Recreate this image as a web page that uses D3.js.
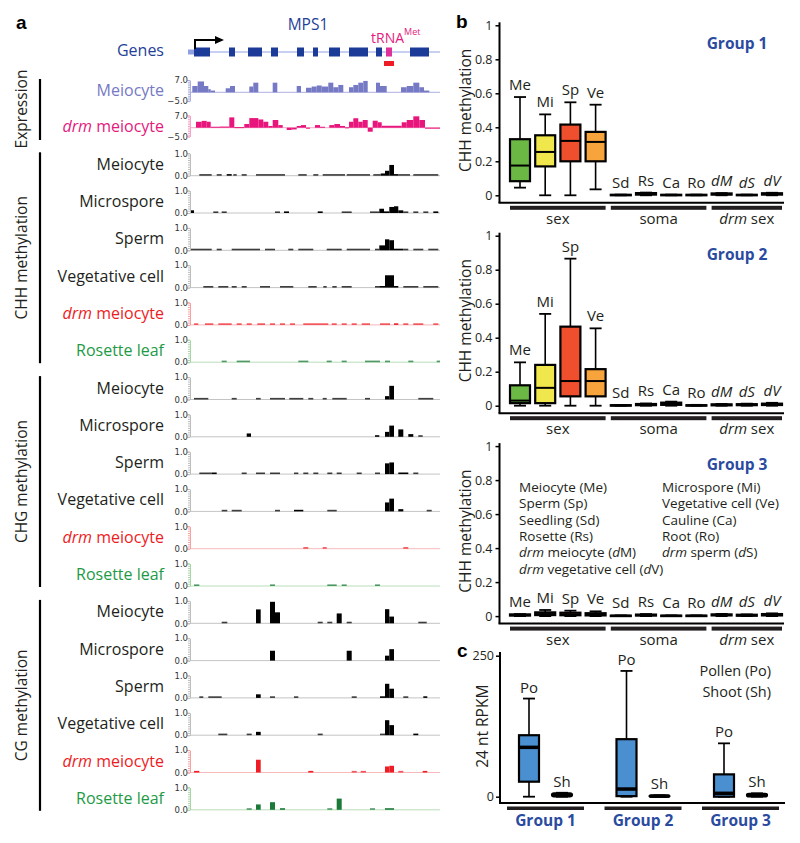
<!DOCTYPE html>
<html><head><meta charset="utf-8">
<script src="https://cdn.jsdelivr.net/npm/d3@7"></script>
<style>body{margin:0;background:#fff} svg{display:block}</style>
</head><body><svg id="c" width="800" height="843"></svg>
<script>
// ---------------- DATA ----------------
// genomic positions in bp across the MPS1 window
const regionDomain = [0, 2500];
const exons = [[40,200],[390,450],[580,720],[810,880],[1070,1140],[1230,1280],[1390,1500],[1590,1780],[1860,1920],[2200,2390]];
const utr = [[0,40]];
const trnaExon = [1960,2020];
const trnaMark = [1940,2040];
const tssPos = 50;

const exprMeiocyte = [[23,77,3.6],[77,140,6.2],[140,183,3.6],[183,207,1.8],[207,250,1.0],[357,400,2.3],[400,450,3.6],[593,633,3.3],[633,683,5.5],[827,873,5.5],[1067,1110,3.6],[1160,1217,2.6],[1217,1267,3.3],[1267,1317,3.9],[1317,1383,3.3],[1383,1433,5.5],[1433,1483,2.9],[1483,1533,4.2],[1590,1633,2.9],[1633,1683,4.2],[1683,1733,5.5],[1733,1777,6.5],[1860,1900,5.5],[1900,1967,3.6],[2110,2167,2.9],[2167,2233,3.6],[2233,2293,5.5],[2293,2340,2.9],[2340,2393,1.0]];
const exprDrmMeiocyte = [[60,117,3.4],[117,167,3.9],[167,207,3.4],[207,300,0.55],[300,393,0.66],[393,443,5.9],[443,543,0.33],[543,593,2.1],[593,683,5.5],[683,733,4.7],[733,783,3.4],[783,827,1.0],[827,883,4.4],[883,927,1.5],[967,1017,-1.3],[1017,1067,-1.0],[1067,1110,1.0],[1110,1160,1.5],[1160,1200,-0.33],[1250,1300,1.5],[1300,1350,0.55],[1393,1443,1.5],[1443,1500,2.1],[1500,1550,1.0],[1550,1590,0.22],[1590,1633,3.4],[1633,1683,5.4],[1683,1727,3.4],[1727,1777,4.4],[1777,1827,-2.3],[1827,1877,4.0],[1877,1917,3.1],[1917,2117,1.1],[2117,2167,3.1],[2167,2233,4.4],[2233,2293,6.5],[2293,2350,4.4],[2350,2400,-0.22],[2400,2500,-0.33]];
const exprTicks = [7.0, -5.0];

const chhMeiocyte = [[93,217,0.02],[267,317,0.02],[367,417,0.07],[433,467,0.02],[517,567,0.02],[660,950,0.02],[1083,1167,0.02],[1233,1283,0.02],[1327,1550,0.02],[1567,1800,0.02],[1833,1907,0.02],[1907,1950,0.1],[1950,1993,0.22],[1993,2040,0.48],[2040,2083,0.04],[2083,2200,0.02],[2233,2483,0.02]];
const chhMicrospore = [[0,40,0.12],[233,283,0.03],[317,367,0.02],[850,900,0.02],[940,990,0.05],[1277,1327,0.05],[1517,1617,0.03],[1800,1893,0.02],[1893,1940,0.19],[1940,1993,0.06],[1993,2040,0.27],[2040,2083,0.3],[2083,2133,0.12],[2133,2183,0.02],[2233,2283,0.02],[2333,2383,0.02],[2433,2483,0.04]];
const chhSperm = [[0,217,0.02],[267,317,0.02],[417,700,0.02],[750,850,0.02],[983,1033,0.02],[1083,1233,0.02],[1367,1517,0.02],[1567,1800,0.02],[1850,1893,0.03],[1893,1950,0.22],[1950,1993,0.49],[1993,2040,0.45],[2040,2133,0.07],[2133,2183,0.02],[2233,2333,0.02],[2383,2483,0.02]];
const chhVegetative = [[133,233,0.02],[283,383,0.02],[417,467,0.02],[517,567,0.02],[700,800,0.02],[900,1033,0.02],[1183,1267,0.02],[1333,1367,0.02],[1423,1467,0.02],[1517,1617,0.02],[1850,1893,0.02],[1893,1950,0.06],[1950,2040,0.55],[2040,2083,0.05],[2133,2283,0.02],[2333,2483,0.02]];
const chhDrmMeiocyte = [[40,83,0.02],[150,233,0.02],[283,417,0.02],[467,517,0.02],[567,617,0.02],[673,750,0.02],[800,850,0.02],[900,950,0.02],[1000,1050,0.02],[1133,1383,0.02],[1417,1467,0.02],[1517,1567,0.02],[1617,1667,0.02],[1717,1800,0.02],[1900,2000,0.02],[2040,2083,0.04],[2133,2183,0.02],[2233,2333,0.02],[2433,2483,0.02]];
const chhRosette = [[317,367,0.02],[467,600,0.02],[1083,1183,0.02],[1367,1417,0.02],[1517,1567,0.02],[1750,1900,0.02],[1950,2000,0.02],[2183,2233,0.02],[2467,2500,0.02]];

const chgMeiocyte = [[40,183,0.02],[417,467,0.02],[660,707,0.02],[800,950,0.02],[993,1133,0.02],[1183,1233,0.02],[1327,1367,0.02],[1423,1567,0.02],[1750,1800,0.02],[1950,1993,0.15],[1993,2040,0.61],[2283,2433,0.02]];
const chgMicrospore = [[567,610,0.15],[1850,1893,0.04],[1950,1993,0.22],[1993,2040,0.5],[2083,2133,0.33],[2183,2233,0.12],[2283,2327,0.03]];
const chgSperm = [[93,217,0.03],[217,267,0.07],[517,567,0.02],[660,750,0.02],[800,900,0.02],[1040,1083,0.02],[1133,1183,0.02],[1233,1283,0.02],[1373,1423,0.02],[1467,1517,0.02],[1667,1717,0.02],[1850,1900,0.02],[1950,1993,0.48],[1993,2040,0.52],[2083,2183,0.04],[2233,2283,0.02]];
const chgVegetative = [[317,373,0.02],[417,517,0.02],[850,900,0.02],[1040,1133,0.04],[1373,1467,0.02],[1950,1993,0.4],[1993,2040,0.57],[2083,2133,0.1],[2367,2417,0.03]];
const chgDrmMeiocyte = [[1133,1183,0.02],[1327,1367,0.02],[2133,2183,0.02]];
const chgRosette = [[40,93,0.02],[800,850,0.02],[1373,1467,0.03],[1517,1567,0.02],[1850,1900,0.02]];

const cgMeiocyte = [[317,373,0.03],[660,707,0.62],[800,850,0.96],[850,900,0.49],[1277,1327,0.03],[1373,1423,0.03],[1467,1517,0.44],[1567,1617,0.03],[1950,1993,0.63],[1993,2040,0.3],[2283,2367,0.03]];
const cgMicrospore = [[800,850,0.44],[1567,1617,0.44],[1950,1993,0.22],[1993,2040,0.51]];
const cgSperm = [[93,133,0.02],[183,317,0.02],[660,707,0.16],[800,850,0.02],[1040,1083,0.02],[1617,1667,0.02],[1900,1950,0.05],[1950,1993,0.63],[1993,2040,0.41],[2133,2183,0.02],[2333,2373,0.07]];
const cgVegetative = [[283,373,0.03],[567,617,0.03],[660,707,0.15],[1277,1327,0.03],[1900,1950,0.03],[1950,1993,0.67],[1993,2040,0.45],[2233,2283,0.04]];
const cgDrmMeiocyte = [[40,93,0.04],[660,707,0.57],[1183,1233,0.05],[1617,1667,0.03],[1707,1760,0.03],[1950,1993,0.27],[1993,2040,0.3],[2083,2133,0.03],[2327,2373,0.04]];
const cgRosette = [[567,617,0.02],[660,707,0.24],[800,850,0.34],[900,950,0.05],[1373,1423,0.03],[1467,1517,0.5],[1800,1850,0.02],[1950,2040,0.04]];

const trackNames = ["Meiocyte","Microspore","Sperm","Vegetative cell","drm meiocyte","Rosette leaf"];
const contextNames = ["CHH methylation","CHG methylation","CG methylation"];

// panel b: boxplot stats [low, q1, median, q3, high]
const boxCats = ["Me","Mi","Sp","Ve","Sd","Rs","Ca","Ro","dM","dS","dV"];
const boxGroups = [["sex",["Me","Mi","Sp","Ve"]],["soma",["Sd","Rs","Ca","Ro"]],["drm sex",["dM","dS","dV"]]];
const group1Stats = [[0.045,0.083,0.175,0.33,0.578],[0,0.17,0.255,0.353,0.476],[0,0.2,0.32,0.416,0.547],[0.035,0.2,0.314,0.373,0.533],[0,0.001,0.002,0.003,0.004],[0,0.004,0.008,0.013,0.016],[0,0.001,0.002,0.003,0.004],[0,0.001,0.002,0.003,0.004],[0,0.004,0.007,0.011,0.013],[0,0.001,0.002,0.003,0.004],[0,0.004,0.008,0.012,0.015]];
const group2Stats = [[0,0.015,0.03,0.12,0.255],[0,0.015,0.105,0.24,0.54],[0,0.055,0.145,0.465,0.865],[0,0.055,0.145,0.215,0.455],[0,0.001,0.002,0.003,0.004],[0,0.003,0.007,0.01,0.013],[0,0.005,0.01,0.018,0.024],[0,0.001,0.002,0.003,0.005],[0,0.002,0.005,0.008,0.01],[0,0.003,0.006,0.009,0.012],[0,0.004,0.008,0.012,0.017]];
const group3Stats = [[0,0.003,0.006,0.01,0.012],[0,0.006,0.012,0.022,0.036],[0,0.005,0.01,0.02,0.032],[0,0.004,0.009,0.017,0.028],[0,0.001,0.002,0.003,0.004],[0,0.003,0.006,0.009,0.012],[0,0.001,0.002,0.003,0.004],[0,0.001,0.002,0.003,0.004],[0,0.004,0.007,0.01,0.013],[0,0.002,0.005,0.008,0.01],[0,0.004,0.008,0.012,0.016]];
const groupTitles = ["Group 1","Group 2","Group 3"];
const yTicksB = [0,0.2,0.4,0.6,0.8,1];
const legendLeft = [["Meiocyte (Me)"],["Sperm (Sp)"],["Seedling (Sd)"],["Rosette (Rs)"],["drm meiocyte (dM)"],["drm vegetative cell (dV)"]];
const legendRight = [["Microspore (Mi)"],["Vegetative cell (Ve)"],["Cauline (Ca)"],["Root (Ro)"],["drm sperm (dS)"]];

// panel c
const rpkmGroups = ["Group 1","Group 2","Group 3"];
const rpkmTissues = ["Po","Sh"];
const pollenStats = [[0,26.6,87.5,109,174],[0,1,13.6,102,223],[0,0,6,39.6,94.6]];
const shootStats = [[0,0.5,3,6,7],[0,0.3,1,2,2.5],[0,0.5,3,5,6]];
const yTicksC = [0,250];
const legendC = ["Pollen (Po)","Shoot (Sh)"];

// ---------------- DRAW ----------------
const F = '"Open Sans", sans-serif';
const svg = d3.select("#c");
const navy = "#1f3f98", magenta = "#e5197e", slate = "#7679c4";
const bold = (s)=>s;

function letter(t,x,y){ svg.append("text").attr("x",x).attr("y",y).text(t)
  .attr("font-family","Liberation Sans, Arial, sans-serif").attr("font-weight","bold").attr("font-size",19); }
letter("a",16,29); letter("b",456,28); letter("c",457,657);

// ---- Panel a ----
const xg = d3.scaleLinear().domain(regionDomain).range([190,440]);
const geneY = 52;
svg.append("line").attr("x1",xg(0)-2).attr("x2",xg(2500)).attr("y1",geneY).attr("y2",geneY).attr("stroke","#8ea0e0").attr("stroke-width",1);
svg.append("g").selectAll("rect").data(exons).join("rect")
  .attr("x",d=>xg(d[0])).attr("width",d=>xg(d[1])-xg(d[0])).attr("y",geneY-4.5).attr("height",9).attr("fill","#1c3a97");
svg.append("g").selectAll("rect").data(utr).join("rect")
  .attr("x",d=>xg(d[0])-2).attr("width",d=>xg(d[1])-xg(d[0])+2).attr("y",geneY-2.5).attr("height",5).attr("fill","#8ea0e0");
svg.append("rect").attr("x",xg(trnaExon[0])).attr("width",xg(trnaExon[1])-xg(trnaExon[0])).attr("y",geneY-4.5).attr("height",9).attr("fill","#e0309a");
svg.append("rect").attr("x",xg(trnaMark[0])).attr("width",xg(trnaMark[1])-xg(trnaMark[0])).attr("y",61).attr("height",5).attr("fill","#ee1c25");
// TSS arrow
svg.append("path").attr("d",`M${xg(tssPos)},${geneY-3}V40H${xg(tssPos)+22}`).attr("fill","none").attr("stroke","#000").attr("stroke-width",2);
svg.append("path").attr("d",`M${xg(tssPos)+29},40L${xg(tssPos)+20},36L${xg(tssPos)+20},44Z`).attr("fill","#000");
svg.append("text").attr("x",308).attr("y",30).attr("text-anchor","middle").attr("font-family",F).attr("font-size",15.5).attr("fill",navy).text("MPS1");
const tl = svg.append("text").attr("x",371).attr("y",43).attr("font-family",F).attr("font-size",14).attr("fill",magenta);
tl.append("tspan").text("tRNA");
tl.append("tspan").attr("dy",-8).attr("font-size",9).text("Met");
svg.append("text").attr("x",164).attr("y",55.5).attr("text-anchor","end").attr("font-family",F).attr("font-size",16).attr("fill",navy).text("Genes");

function trackLabel(name, y, color){
  const t = svg.append("text").attr("x",164).attr("y",y).attr("text-anchor","end").attr("font-family",F).attr("font-size",16).attr("fill",color);
  if(name.startsWith("drm ")){ t.append("tspan").attr("font-style","italic").text("drm"); t.append("tspan").text(" "+name.slice(4)); }
  else t.text(name);
}
function ruler(y, axisColor, labels){
  const g = svg.append("g").attr("transform","translate(190,0)");
  g.call(d3.axisLeft(y).ticks(12).tickSize(2).tickFormat("").tickSizeOuter(0));
  g.selectAll("line,path").attr("stroke",axisColor);
  g.append("g").call(d3.axisLeft(y).tickValues(labels).tickSize(3).tickFormat(d3.format(".1f")).tickSizeOuter(0))
    .call(a=>{a.select("path").remove(); a.selectAll("line").attr("stroke",axisColor);
      a.selectAll("text").attr("font-family","DejaVu Sans, sans-serif").attr("font-size",8.5).attr("fill","#333").attr("x",-2);});
}

// expression tracks
const exprTracks = [
  {name:"Meiocyte", data:exprMeiocyte, base:92.3, color:slate, line:"#aeb0e0", lab:slate},
  {name:"drm meiocyte", data:exprDrmMeiocyte, base:127.7, color:"#e8157c", line:"#f6a7c9", lab:magenta}
];
exprTracks.forEach(t=>{
  const y = d3.scaleLinear().domain([-5,7]).range([t.base+8.75, t.base-12.25]);
  svg.append("line").attr("x1",xg(0)).attr("x2",xg(2500)).attr("y1",y(0)).attr("y2",y(0)).attr("stroke",t.line);
  svg.append("g").selectAll("rect").data(t.data).join("rect")
    .attr("x",d=>xg(d[0])).attr("width",d=>xg(d[1])-xg(d[0]))
    .attr("y",d=>Math.min(y(0),y(d[2]))).attr("height",d=>Math.max(1,Math.abs(y(d[2])-y(0))))
    .attr("fill",t.color);
  ruler(y, t.line, exprTicks);
  trackLabel(t.name, t.base+4, t.lab);
});

// methylation tracks
const methData = [
  [chhMeiocyte,chhMicrospore,chhSperm,chhVegetative,chhDrmMeiocyte,chhRosette],
  [chgMeiocyte,chgMicrospore,chgSperm,chgVegetative,chgDrmMeiocyte,chgRosette],
  [cgMeiocyte,cgMicrospore,cgSperm,cgVegetative,cgDrmMeiocyte,cgRosette]
];
const trackStyles = [
  {bar:"#000", line:"#c4c4c4", axis:"#bdbdbd", lab:"#231f20"},
  {bar:"#000", line:"#c4c4c4", axis:"#bdbdbd", lab:"#231f20"},
  {bar:"#000", line:"#c4c4c4", axis:"#bdbdbd", lab:"#231f20"},
  {bar:"#000", line:"#c4c4c4", axis:"#bdbdbd", lab:"#231f20"},
  {bar:"#ee1c25", line:"#f7b9b9", axis:"#f5a3a3", lab:"#ed1c24"},
  {bar:"#1b7a3a", line:"#b9ddb9", axis:"#a9d6a9", lab:"#1e9a45"}
];
const firstBase = 175.7, step = 37.3, trackH = 22.4;
methData.forEach((ctx,ci)=>{
  ctx.forEach((data,ti)=>{
    const base = firstBase + (ci*6+ti)*step;
    const st = trackStyles[ti];
    const y = d3.scaleLinear().domain([0,1]).range([base, base-trackH]);
    svg.append("line").attr("x1",xg(0)).attr("x2",xg(2500)).attr("y1",base).attr("y2",base).attr("stroke",st.line);
    svg.append("g").selectAll("rect").data(data).join("rect")
      .attr("x",d=>xg(d[0])).attr("width",d=>xg(d[1])-xg(d[0]))
      .attr("y",d=>Math.min(y(d[2]),base-1.6)).attr("height",d=>Math.max(1.6,base-y(d[2])))
      .attr("fill",st.bar).attr("opacity",d=>d[2]<0.035?0.75:1);
    ruler(y, st.axis, [0,1]);
    trackLabel(trackNames[ti], base-6, st.lab);
  });
  const top = firstBase + ci*6*step - trackH - 1, bot = firstBase + (ci*6+5)*step + 1;
  svg.append("line").attr("x1",40).attr("x2",40).attr("y1",top).attr("y2",bot).attr("stroke","#000").attr("stroke-width",2.2);
  svg.append("text").attr("transform",`translate(22,${(top+bot)/2}) rotate(-90)`).attr("dy","0.35em")
    .attr("text-anchor","middle").attr("font-family",F).attr("font-size",15.5).attr("fill","#231f20").text(contextNames[ci]);
});
svg.append("line").attr("x1",40).attr("x2",40).attr("y1",79).attr("y2",140).attr("stroke","#000").attr("stroke-width",2.2);
svg.append("text").attr("transform","translate(22,109) rotate(-90)").attr("dy","0.35em")
  .attr("text-anchor","middle").attr("font-family",F).attr("font-size",15.5).attr("fill","#231f20").text("Expression");

// ---- Panel b ----
const boxFill = {Me:"#6bb845",Mi:"#efe74c",Sp:"#ef4f2c",Ve:"#f7a43c"};
const xb = d3.scaleBand().domain(boxCats).range([507.4,784.6]);
const bw = 20;
function italicCat(sel, c){
  if(c[0]==="d" && c.length===2){ sel.attr("font-style","italic"); }
  sel.text(c);
}
[group1Stats,group2Stats,group3Stats].forEach((stats,gi)=>{
  const y0 = 195.3 + gi*210.4;
  const y = d3.scaleLinear().domain([0,1]).range([y0, y0-170]);
  const axisY = y0+7.5;
  const g = svg.append("g");
  // axis
  g.append("line").attr("x1",499.5).attr("x2",499.5).attr("y1",y(1)-3).attr("y2",axisY).attr("stroke","#000").attr("stroke-width",2);
  g.append("line").attr("x1",498.5).attr("x2",784).attr("y1",axisY).attr("y2",axisY).attr("stroke","#000").attr("stroke-width",2);
  const ax = g.append("g").attr("transform","translate(499.5,0)")
    .call(d3.axisLeft(y).tickValues(yTicksB).tickSize(4).tickSizeOuter(0).tickFormat(d=>d===0?"0":d===1?"1":d.toFixed(1)));
  ax.select("path").remove();
  ax.selectAll("line").attr("stroke","#000").attr("stroke-width",1.5);
  ax.selectAll("text").attr("font-family",F).attr("font-size",12.5).attr("fill","#231f20").attr("x",-7);
  // y label
  g.append("text").attr("transform",`translate(466,${y(0.5)}) rotate(-90)`).attr("dy","0.35em").attr("text-anchor","middle")
    .attr("font-family",F).attr("font-size",15.5).attr("fill","#231f20").text("CHH methylation");
  // title
  g.append("text").attr("x",737).attr("y",y(1)+24).attr("text-anchor","middle").attr("font-family",F).attr("font-weight","bold")
    .attr("font-size",15.5).attr("fill","#2a4ba0").text(groupTitles[gi]);
  // boxes
  boxCats.forEach((c,i)=>{
    const s = stats[i]; const cx = xb(c)+xb.bandwidth()/2;
    const bg = g.append("g");
    bg.append("line").attr("x1",cx).attr("x2",cx).attr("y1",y(s[0])).attr("y2",y(s[4])).attr("stroke","#000").attr("stroke-width",1.6);
    bg.append("line").attr("x1",cx-6).attr("x2",cx+6).attr("y1",y(s[4])).attr("y2",y(s[4])).attr("stroke","#000").attr("stroke-width",1.8);
    bg.append("line").attr("x1",cx-6).attr("x2",cx+6).attr("y1",y(s[0])).attr("y2",y(s[0])).attr("stroke","#000").attr("stroke-width",1.8);
    bg.append("rect").attr("x",cx-bw/2).attr("width",bw).attr("y",y(s[3])).attr("height",Math.max(0.5,y(s[1])-y(s[3])))
      .attr("fill",boxFill[c]||"#000").attr("stroke","#000").attr("stroke-width",2.2);
    bg.append("line").attr("x1",cx-bw/2).attr("x2",cx+bw/2).attr("y1",y(s[2])).attr("y2",y(s[2])).attr("stroke","#000").attr("stroke-width",2);
    const lab = g.append("text").attr("x",cx).attr("y",y(s[4])-7).attr("text-anchor","middle").attr("font-family",F)
      .attr("font-size",15).attr("fill","#231f20");
    italicCat(lab,c);
  });
  // group bars
  boxGroups.forEach(([name,cats])=>{
    const x1 = xb(cats[0])+xb.bandwidth()/2-10, x2 = xb(cats[cats.length-1])+xb.bandwidth()/2+10;
    g.append("rect").attr("x",x1).attr("width",x2-x1).attr("y",axisY+3).attr("height",4).attr("fill","#231f20");
    const t = g.append("text").attr("x",(x1+x2)/2).attr("y",axisY+21).attr("text-anchor","middle").attr("font-family",F)
      .attr("font-size",15).attr("fill","#231f20");
    if(name.startsWith("drm ")){ t.append("tspan").attr("font-style","italic").text("drm"); t.append("tspan").text(" sex"); }
    else t.text(name);
  });
});
// legend in group 3
function legendText(str,x,y){
  const t = svg.append("text").attr("x",x).attr("y",y).attr("font-family",F).attr("font-size",13.5).attr("fill","#231f20");
  const parts = str.split(/(drm|\(d)/);
  parts.forEach(p=>{
    if(p==="drm") t.append("tspan").attr("font-style","italic").text("drm");
    else if(p==="(d"){ t.append("tspan").text("("); t.append("tspan").attr("font-style","italic").text("d"); }
    else if(p) t.append("tspan").text(p);
  });
}
legendLeft.forEach((r,i)=>legendText(r[0],519,492+i*16.3));
legendRight.forEach((r,i)=>legendText(r[0],662,492+i*16.3));

// ---- Panel c ----
const yc = d3.scaleLinear().domain([0,250]).range([796.7,655.7]);
const xc = d3.scaleBand().domain(rpkmGroups).range([496.75,789.25]);
const xt = d3.scalePoint().domain(rpkmTissues).range([-16.5,16.5]);
const gc = svg.append("g");
const cAxisY = 803;
gc.append("line").attr("x1",500).attr("x2",500).attr("y1",652).attr("y2",cAxisY).attr("stroke","#000").attr("stroke-width",2);
gc.append("line").attr("x1",499).attr("x2",785).attr("y1",cAxisY).attr("y2",cAxisY).attr("stroke","#000").attr("stroke-width",2);
const axc = gc.append("g").attr("transform","translate(500,0)").call(d3.axisLeft(yc).tickValues(yTicksC).tickSize(4).tickSizeOuter(0));
axc.select("path").remove();
axc.selectAll("line").attr("stroke","#000").attr("stroke-width",1.5);
axc.selectAll("text").attr("font-family",F).attr("font-size",12.5).attr("fill","#231f20").attr("x",-6);
gc.append("text").attr("transform",`translate(483,${yc(125)}) rotate(-90)`).attr("dy","0.35em").attr("text-anchor","middle")
  .attr("font-family",F).attr("font-size",15.5).attr("fill","#231f20").text("24 nt RPKM");
rpkmGroups.forEach((gname,gi)=>{
  const gcx = xc(gname)+xc.bandwidth()/2;
  [[pollenStats[gi],"Po","#4a8fd0"],[shootStats[gi],"Sh","#000"]].forEach(([s,tname,fill])=>{
    const cx = gcx + xt(tname);
    gc.append("line").attr("x1",cx).attr("x2",cx).attr("y1",yc(s[0])).attr("y2",yc(s[4])).attr("stroke","#000").attr("stroke-width",1.6);
    gc.append("line").attr("x1",cx-6).attr("x2",cx+6).attr("y1",yc(s[4])).attr("y2",yc(s[4])).attr("stroke","#000").attr("stroke-width",1.8);
    gc.append("line").attr("x1",cx-6).attr("x2",cx+6).attr("y1",yc(s[0])).attr("y2",yc(s[0])).attr("stroke","#000").attr("stroke-width",1.8);
    gc.append("rect").attr("x",cx-10).attr("width",20).attr("y",yc(s[3])).attr("height",Math.max(0.5,yc(s[1])-yc(s[3])))
      .attr("fill",fill).attr("stroke","#000").attr("stroke-width",2.2).attr("rx",tname==="Sh"?2:0);
    gc.append("line").attr("x1",cx-10).attr("x2",cx+10).attr("y1",yc(s[2])).attr("y2",yc(s[2])).attr("stroke","#000").attr("stroke-width",3.5);
    gc.append("text").attr("x",cx).attr("y",yc(s[4])-6).attr("text-anchor","middle").attr("font-family",F)
      .attr("font-size",15).attr("fill","#231f20").text(tname);
  });
  gc.append("rect").attr("x",gcx-38.5).attr("width",77).attr("y",cAxisY+3.5).attr("height",3.5).attr("fill","#231f20");
  gc.append("text").attr("x",gcx).attr("y",826).attr("text-anchor","middle").attr("font-family",F).attr("font-weight","bold")
    .attr("font-size",15.5).attr("fill","#2a4ba0").text(gname);
});
legendC.forEach((s,i)=>gc.append("text").attr("x",771).attr("y",676+i*21).attr("text-anchor","end").attr("font-family",F)
  .attr("font-size",14.5).attr("fill","#231f20").text(s));
</script></body></html>
